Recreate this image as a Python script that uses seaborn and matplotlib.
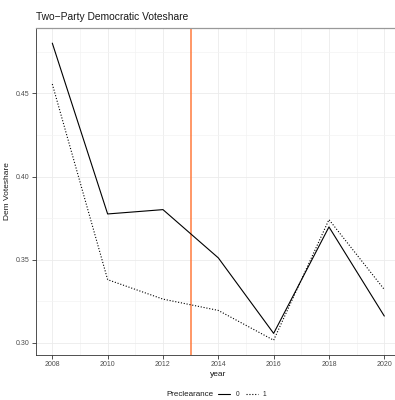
import matplotlib
matplotlib.use("Agg")
import matplotlib.pyplot as plt
import pandas as pd
import seaborn as sns
from matplotlib.lines import Line2D
from matplotlib.ticker import FixedLocator, FormatStrFormatter

# Two-party Democratic vote share by election year and preclearance status
years = [2008, 2010, 2012, 2014, 2016, 2018, 2020]
share_0 = [0.4802, 0.3775, 0.3801, 0.3511, 0.3057, 0.3697, 0.3161]
share_1 = [0.4556, 0.3380, 0.3263, 0.3195, 0.3016, 0.3741, 0.3321]
groups = ["0", "1"]
cutoff_year = 2013

df = pd.DataFrame({
    "year": years * 2,
    "share": share_0 + share_1,
    "Preclearance": [groups[0]] * len(years) + [groups[1]] * len(years),
})

sns.set_theme(style="white")
plt.rcParams["font.family"] = ["Liberation Sans", "DejaVu Sans"]

W, H = 395, 400
fig = plt.figure(figsize=(W / 100, H / 100), dpi=100)
ax = fig.add_axes([35.7 / W, 45 / H, (400.9 - 35.7) / W, 327 / H])

dotted = (1, 1.6)
sns.lineplot(data=df, x="year", y="share", style="Preclearance",
             dashes={"0": "", "1": dotted}, color="black", linewidth=0.8,
             ax=ax, legend=False, zorder=3)
ax.axvline(cutoff_year, color="#FF7A3D", linewidth=1.1, zorder=2.5)

ax.set_xlim(2007.4, 2020.6)
ax.set_ylim(0.2927, 0.4893)
ax.xaxis.set_major_locator(FixedLocator(list(range(2008, 2021, 2))))
ax.xaxis.set_minor_locator(FixedLocator([y for y in range(2007, 2022, 2) if y != cutoff_year]))
ax.yaxis.set_major_locator(FixedLocator([0.30, 0.35, 0.40, 0.45]))
ax.yaxis.set_minor_locator(FixedLocator([0.275, 0.325, 0.375, 0.425, 0.475]))
ax.yaxis.set_major_formatter(FormatStrFormatter("%.2f"))

ax.grid(which="major", color="#EBEBEB", linewidth=0.6, zorder=0)
ax.grid(which="minor", color="#F3F3F3", linewidth=0.5, zorder=0)
ax.set_axisbelow(True)

ax.tick_params(which="major", length=2.7, width=0.6, color="#333333",
               labelsize=5, labelcolor="#4D4D4D", pad=1.5,
               bottom=True, left=True)
ax.tick_params(which="minor", length=0)

for side in ("left", "bottom"):
    ax.spines[side].set_color("#333333")
    ax.spines[side].set_linewidth(0.6)
ax.spines["top"].set_color("#999999")
ax.spines["top"].set_linewidth(0.9)
ax.spines["right"].set_visible(False)

ax.set_xlabel("year", fontsize=6, labelpad=2, color="#1A1A1A")
ax.set_ylabel("Dem Voteshare", fontsize=6, labelpad=4, color="#1A1A1A")

fig.text(35.5 / W, 1 - 17 / H, "Two\u2212Party Democratic Voteshare",
         fontsize=7.4, va="center", ha="left", color="#1A1A1A")

# Legend at the bottom, title to the left of the keys
fig.text(166 / W, 1 - 395 / H, "Preclearance", fontsize=5.8,
         va="center", ha="left", color="#1A1A1A")
handles = [Line2D([], [], color="black", linewidth=0.8),
           Line2D([], [], color="black", linewidth=0.8, dashes=dotted)]
fig.legend(handles, groups, loc="center left",
           bbox_to_anchor=(218 / W, 1 - 395 / H), ncol=2, frameon=False,
           fontsize=4.8, handlelength=1.8, handletextpad=0.8,
           columnspacing=1.0, borderpad=0, borderaxespad=0)

fig.savefig("out.png", dpi=100)
